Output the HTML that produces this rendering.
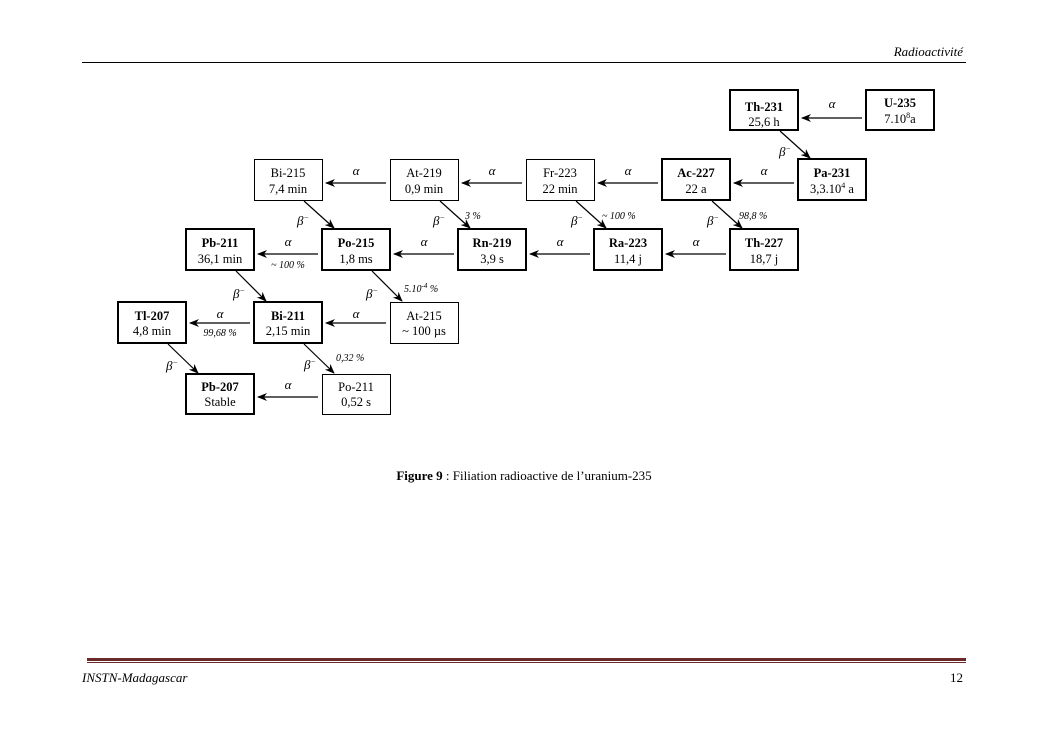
<!DOCTYPE html>
<html><head><meta charset="utf-8"><style>
html,body{margin:0;padding:0;background:#fff;}
svg{display:block;font-family:"Liberation Serif",serif;}
.n{font-size:12.5px;text-anchor:middle;fill:#000}
.b{font-weight:bold}
.g{font-size:13px;font-style:italic}
.p{font-size:10px;font-style:italic}
</style></head><body>
<svg width="1053" height="744" viewBox="0 0 1053 744" xmlns="http://www.w3.org/2000/svg">
<defs><marker id="a" markerWidth="10" markerHeight="8" refX="9" refY="4" orient="auto" markerUnits="userSpaceOnUse"><path d="M0,0 L10,4 L0,8 L3,4 z" fill="#000"/></marker></defs>
<text x="963" y="56" font-size="13" font-style="italic" text-anchor="end">Radioactivité</text>
<line x1="82" y1="62.5" x2="966" y2="62.5" stroke="#000" stroke-width="1"/>
<rect x="87" y="658" width="879" height="3" fill="#6b2a2a"/>
<rect x="87" y="662" width="879" height="1" fill="#6b2a2a"/>
<text x="82" y="682" font-size="13" font-style="italic">INSTN-Madagascar</text>
<text x="963" y="682" font-size="13" text-anchor="end">12</text>
<text x="524" y="480" font-size="13" text-anchor="middle"><tspan font-weight="bold">Figure 9</tspan> : Filiation radioactive de l’uranium-235</text>

<g fill="none" stroke="#000">
<g stroke-width="2">
<rect x="730" y="90" width="68" height="40"/><rect x="866" y="90" width="68" height="40"/>
<rect x="662" y="159" width="68" height="41"/><rect x="798" y="159" width="68" height="41"/>
<rect x="186" y="229" width="68" height="41"/><rect x="322" y="229" width="68" height="41"/><rect x="458" y="229" width="68" height="41"/><rect x="594" y="229" width="68" height="41"/><rect x="730" y="229" width="68" height="41"/>
<rect x="118" y="302" width="68" height="41"/><rect x="254" y="302" width="68" height="41"/>
<rect x="186" y="374" width="68" height="40"/>
</g>
<g stroke-width="1">
<rect x="254.5" y="159.5" width="68" height="41"/><rect x="390.5" y="159.5" width="68" height="41"/><rect x="526.5" y="159.5" width="68" height="41"/>
<rect x="390.5" y="302.5" width="68" height="41"/><rect x="322.5" y="374.5" width="68" height="40"/>
</g>
<g stroke-width="1.2" marker-end="url(#a)">
<line x1="862" y1="118" x2="802" y2="118"/>
<line x1="794" y1="183" x2="734" y2="183"/><line x1="658" y1="183" x2="598" y2="183"/><line x1="522" y1="183" x2="462" y2="183"/><line x1="386" y1="183" x2="326" y2="183"/>
<line x1="726" y1="254" x2="666" y2="254"/><line x1="590" y1="254" x2="530" y2="254"/><line x1="454" y1="254" x2="394" y2="254"/><line x1="318" y1="254" x2="258" y2="254"/>
<line x1="386" y1="323" x2="326" y2="323"/><line x1="250" y1="323" x2="190" y2="323"/>
<line x1="318" y1="397" x2="258" y2="397"/>
<line x1="780" y1="131" x2="810" y2="158"/>
<line x1="712" y1="201" x2="742" y2="228"/><line x1="576" y1="201" x2="606" y2="228"/><line x1="440" y1="201" x2="470" y2="228"/><line x1="304" y1="201" x2="334" y2="228"/>
<line x1="372" y1="271" x2="402" y2="301"/><line x1="236" y1="271" x2="266" y2="301"/>
<line x1="304" y1="344" x2="334" y2="373"/><line x1="168" y1="344" x2="198" y2="373"/>
</g>
</g>

<g class="n">
<text x="764" y="111" class="b">Th-231</text><text x="764" y="126">25,6 h</text>
<text x="900" y="107" class="b">U-235</text><text x="900" y="123">7.10<tspan font-size="8" dy="-5">8</tspan><tspan dy="5">a</tspan></text>
<text x="288" y="177">Bi-215</text><text x="288" y="193">7,4 min</text>
<text x="424" y="177">At-219</text><text x="424" y="193">0,9 min</text>
<text x="560" y="177">Fr-223</text><text x="560" y="193">22 min</text>
<text x="696" y="177" class="b">Ac-227</text><text x="696" y="193">22 a</text>
<text x="832" y="177" class="b">Pa-231</text><text x="832" y="193">3,3.10<tspan font-size="8" dy="-5">4</tspan><tspan dy="5"> a</tspan></text>
<text x="220" y="247" class="b">Pb-211</text><text x="220" y="263">36,1 min</text>
<text x="356" y="247" class="b">Po-215</text><text x="356" y="263">1,8 ms</text>
<text x="492" y="247" class="b">Rn-219</text><text x="492" y="263">3,9 s</text>
<text x="628" y="247" class="b">Ra-223</text><text x="628" y="263">11,4 j</text>
<text x="764" y="247" class="b">Th-227</text><text x="764" y="263">18,7 j</text>
<text x="152" y="320" class="b">Tl-207</text><text x="152" y="335">4,8 min</text>
<text x="288" y="320" class="b">Bi-211</text><text x="288" y="335">2,15 min</text>
<text x="424" y="320">At-215</text><text x="424" y="335">~ 100 µs</text>
<text x="220" y="391" class="b">Pb-207</text><text x="220" y="406">Stable</text>
<text x="356" y="391">Po-211</text><text x="356" y="406">0,52 s</text>
</g>

<g class="g" text-anchor="middle">
<text x="832" y="108">α</text>
<text x="764" y="175">α</text><text x="628" y="175">α</text><text x="492" y="175">α</text><text x="356" y="175">α</text>
<text x="696" y="246">α</text><text x="560" y="246">α</text><text x="424" y="246">α</text><text x="288" y="246">α</text>
<text x="356" y="318">α</text><text x="220" y="318">α</text>
<text x="288" y="389">α</text>
</g>
<g class="g">
<text x="779" y="156">β<tspan font-size="8" dy="-5">−</tspan></text>
<text x="707" y="225">β<tspan font-size="8" dy="-5">−</tspan></text>
<text x="571" y="225">β<tspan font-size="8" dy="-5">−</tspan></text>
<text x="433" y="225">β<tspan font-size="8" dy="-5">−</tspan></text>
<text x="297" y="225">β<tspan font-size="8" dy="-5">−</tspan></text>
<text x="366" y="298">β<tspan font-size="8" dy="-5">−</tspan></text>
<text x="233" y="298">β<tspan font-size="8" dy="-5">−</tspan></text>
<text x="304" y="369">β<tspan font-size="8" dy="-5">−</tspan></text>
<text x="166" y="370">β<tspan font-size="8" dy="-5">−</tspan></text>
</g>
<g class="p">
<text x="739" y="219">98,8 %</text>
<text x="602" y="219">~ 100  %</text>
<text x="465" y="219">3  %</text>
<text x="404" y="292">5.10<tspan font-size="7" dy="-4">-4</tspan><tspan dy="4"> %</tspan></text>
<text x="336" y="361">0,32  %</text>
<text x="288" y="268" text-anchor="middle">~ 100 %</text>
<text x="220" y="336" text-anchor="middle">99,68 %</text>
</g>
</svg>
</body></html>
